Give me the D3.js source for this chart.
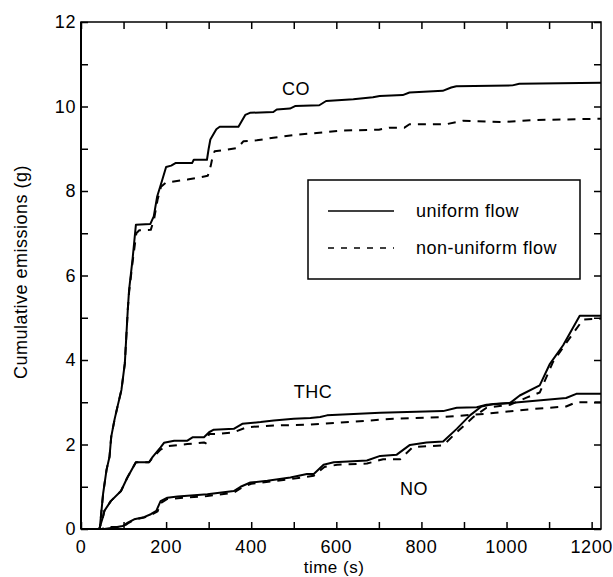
<!DOCTYPE html>
<html>
<head>
<meta charset="utf-8">
<script src="https://cdn.jsdelivr.net/npm/d3@7"></script>
<style>
  body { margin: 0; background: #fff; }
  svg { font-family: "Liberation Sans", Arial, Helvetica, sans-serif; }
  text { fill: #000; }
</style>
</head>
<body>
<div id="chart"></div>
<script>
// [time (s), cumulative emissions (g)]
var coUniform = [[0,0],[44,0],[52,0.84],[60,1.4],[67,1.71],[71,2.18],[79,2.6],[87,2.95],[95,3.29],[103,3.92],[110,5.2],[113,5.66],[121,6.37],[129,7.2],[163,7.22],[171,7.4],[179,7.87],[190,8.23],[200,8.57],[212,8.6],[222,8.66],[261,8.66],[265,8.74],[296,8.74],[300,9.0],[304,9.22],[318,9.46],[326,9.52],[370,9.52],[386,9.8],[397,9.85],[452,9.87],[460,9.93],[491,9.95],[503,10.01],[560,10.03],[576,10.13],[640,10.17],[686,10.22],[702,10.25],[756,10.27],[772,10.33],[850,10.37],[870,10.45],[882,10.48],[1014,10.5],[1030,10.54],[1222,10.56]]
var coNonUniform = [[0,0],[44,0],[52,0.84],[60,1.4],[67,1.71],[71,2.18],[79,2.6],[87,2.95],[95,3.29],[103,3.92],[110,5.2],[113,5.6],[121,6.3],[130,7.0],[137,7.07],[164,7.08],[172,7.35],[180,7.8],[188,8.1],[200,8.2],[250,8.27],[298,8.36],[305,8.6],[309,8.8],[314,8.94],[336,8.97],[368,9.02],[382,9.18],[413,9.2],[452,9.26],[503,9.33],[560,9.38],[616,9.43],[700,9.45],[725,9.5],[760,9.5],[772,9.58],[858,9.58],[897,9.66],[990,9.63],[1062,9.68],[1222,9.71]]
var thcUniform = [[0,0],[43,0],[52,0.3],[55,0.43],[70,0.66],[94,0.9],[109,1.22],[129,1.58],[160,1.58],[168,1.7],[187,1.93],[195,2.04],[219,2.09],[250,2.09],[262,2.17],[289,2.17],[301,2.29],[312,2.35],[359,2.37],[379,2.49],[422,2.53],[453,2.57],[500,2.61],[539,2.63],[562,2.65],[578,2.69],[703,2.75],[851,2.79],[883,2.87],[930,2.88],[953,2.94],[1015,2.99],[1140,3.1],[1164,3.2],[1222,3.2]]
var thcNonUniform = [[0,0],[43,0],[52,0.3],[55,0.43],[70,0.66],[94,0.9],[109,1.22],[129,1.58],[160,1.58],[168,1.68],[187,1.88],[203,1.96],[250,2.01],[289,2.05],[293,2.03],[301,2.25],[320,2.25],[359,2.29],[390,2.41],[453,2.45],[539,2.47],[641,2.54],[734,2.61],[851,2.65],[953,2.73],[1062,2.84],[1140,2.9],[1164,3.0],[1222,3.0]]
var noUniform = [[0,0],[55,0],[75,0.03],[98,0.07],[110,0.15],[125,0.23],[148,0.28],[164,0.35],[177,0.43],[187,0.66],[203,0.74],[227,0.77],[297,0.82],[359,0.9],[375,1.0],[398,1.1],[438,1.14],[492,1.22],[531,1.3],[547,1.3],[570,1.52],[594,1.58],[672,1.62],[703,1.73],[742,1.76],[773,1.99],[812,2.05],[851,2.07],[883,2.37],[914,2.69],[941,2.9],[969,2.96],[1008,2.98],[1031,3.16],[1078,3.4],[1102,3.91],[1133,4.35],[1172,5.05],[1222,5.05]]
var noNonUniform = [[0,0],[50,0],[60,0.05],[98,0.05],[110,0.13],[125,0.22],[148,0.27],[164,0.33],[180,0.42],[188,0.62],[203,0.71],[297,0.78],[359,0.86],[378,0.98],[400,1.07],[492,1.18],[547,1.26],[572,1.47],[602,1.52],[672,1.55],[710,1.65],[750,1.65],[780,1.94],[851,1.98],[883,2.29],[922,2.65],[953,2.87],[1008,2.94],[1047,3.11],[1078,3.23],[1109,3.95],[1140,4.4],[1180,4.96],[1222,4.98]]

var xTicks = [0, 200, 400, 600, 800, 1000, 1200]
var yTicks = [0, 2, 4, 6, 8, 10, 12]
var seriesLabels = [['CO', 296, 95], ['THC', 313, 398], ['NO', 414, 495]]
var legendLabels = ['uniform flow', 'non-uniform flow']

var width = 613, height = 577
var margin = { left: 81, right: 12, top: 22, bottom: 48 }

var svg = d3.select('#chart')
  .append('svg')
  .attr('width', width)
  .attr('height', height)

var x = d3.scaleLinear().domain([0, 1222]).range([margin.left, width - margin.right])
var y = d3.scaleLinear().domain([0, 12]).range([height - margin.bottom, margin.top])

var fontSize = 18

// inward ticks on all four sides
var tickLen = 7
var minorX = d3.range(0, 1201, 100)
var minorY = d3.range(0, 13, 1)

svg.append('g')
  .attr('transform', 'translate(0,' + y(0) + ')')
  .call(d3.axisBottom(x).tickValues(minorX).tickSize(-tickLen).tickFormat(''))
svg.append('g')
  .attr('transform', 'translate(0,' + y(12) + ')')
  .call(d3.axisTop(x).tickValues(minorX).tickSize(-tickLen).tickFormat(''))
svg.append('g')
  .attr('transform', 'translate(' + x(0) + ',0)')
  .call(d3.axisLeft(y).tickValues(minorY).tickSize(-tickLen).tickFormat(''))
svg.append('g')
  .attr('transform', 'translate(' + x(1222) + ',0)')
  .call(d3.axisRight(y).tickValues(minorY).tickSize(-tickLen).tickFormat(''))

svg.selectAll('.domain').remove()
svg.selectAll('.tick line').attr('stroke', '#000').attr('stroke-width', 1.5)

// frame
svg.append('rect')
  .attr('x', x(0)).attr('y', y(12))
  .attr('width', x(1222) - x(0)).attr('height', y(0) - y(12))
  .attr('fill', 'none').attr('stroke', '#000').attr('stroke-width', 1.5)
svg.append('line')
  .attr('x1', x(0)).attr('x2', x(1222)).attr('y1', y(0)).attr('y2', y(0))
  .attr('stroke', '#000').attr('stroke-width', 2.2)
svg.append('line')
  .attr('x1', x(0)).attr('x2', x(0)).attr('y1', y(0)).attr('y2', y(12))
  .attr('stroke', '#000').attr('stroke-width', 2)

// tick labels
svg.selectAll('.xlab').data(xTicks).enter().append('text')
  .attr('x', function (d) { return x(d) })
  .attr('y', y(0) + 24)
  .attr('text-anchor', 'middle')
  .attr('font-size', fontSize)
  .attr('letter-spacing', 0.6)
  .text(function (d) { return d })
svg.selectAll('.ylab').data(yTicks).enter().append('text')
  .attr('x', x(0) - 5)
  .attr('y', function (d) { return y(d) + 6 })
  .attr('text-anchor', 'end')
  .attr('font-size', fontSize)
  .attr('letter-spacing', 0.6)
  .text(function (d) { return d })

// axis titles
svg.append('text')
  .attr('x', 334).attr('y', 573)
  .attr('text-anchor', 'middle')
  .attr('font-size', 17)
  .attr('letter-spacing', 0.5)
  .text('time (s)')
svg.append('text')
  .attr('transform', 'translate(27,272) rotate(-90)')
  .attr('text-anchor', 'middle')
  .attr('font-size', fontSize)
  .attr('letter-spacing', 0.5)
  .text('Cumulative emissions (g)')

// curves
var line = d3.line()
  .x(function (d) { return x(d[0]) })
  .y(function (d) { return y(d[1]) })

var curves = [
  [coUniform, false], [coNonUniform, true],
  [thcUniform, false], [thcNonUniform, true],
  [noUniform, false], [noNonUniform, true]
]
curves.forEach(function (c) {
  svg.append('path')
    .datum(c[0])
    .attr('d', line)
    .attr('fill', 'none')
    .attr('stroke', '#000')
    .attr('stroke-width', 2)
    .attr('stroke-linejoin', 'round')
    .attr('stroke-dasharray', c[1] ? '8,7' : null)
})

// series labels
seriesLabels.forEach(function (l) {
  svg.append('text')
    .attr('x', l[1]).attr('y', l[2])
    .attr('text-anchor', 'middle')
    .attr('font-size', fontSize)
    .attr('letter-spacing', 0.5)
    .text(l[0])
})

// legend
var legend = svg.append('g')
legend.append('rect')
  .attr('x', 308).attr('y', 180)
  .attr('width', 272).attr('height', 99)
  .attr('fill', '#fff').attr('stroke', '#000').attr('stroke-width', 1.5)
legendLabels.forEach(function (t, i) {
  var ly = 211 + i * 37
  legend.append('line')
    .attr('x1', 328).attr('x2', 394).attr('y1', ly).attr('y2', ly)
    .attr('stroke', '#000').attr('stroke-width', 1.5)
    .attr('stroke-dasharray', i ? '6,7' : null)
  legend.append('text')
    .attr('x', 416).attr('y', ly + 6)
    .attr('font-size', fontSize)
    .attr('letter-spacing', 0.5)
    .text(t)
})
</script>
</body>
</html>
